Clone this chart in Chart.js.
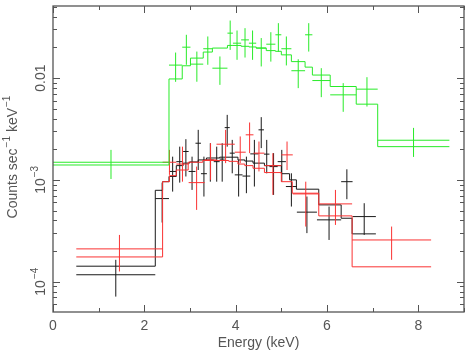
<!DOCTYPE html>
<html><head><meta charset="utf-8">
<script src="https://cdn.jsdelivr.net/npm/chart.js@4/dist/chart.umd.min.js"></script>
<style>html,body{margin:0;padding:0;background:#fff;}canvas{display:block;}</style>
</head><body>
<canvas id="c" width="469" height="353"></canvas>
<script>
// ---- axis labels ----
const xTickValues = [0, 2, 4, 6, 8];
const xTickLabels = ['0', '2', '4', '6', '8'];
const yTickValues = [1e-4, 1e-3, 1e-2];
const yTickBase = ['10', '10', '0.01'];
const yTickExp = ['\u22124', '\u22123', ''];
const xTitle = 'Energy (keV)';
const yTitleParts = ['Counts sec', '\u22121', ' keV', '\u22121'];

// ---- green dataset (bins in keV, counts/s/keV) ----
const greenEdges = [0, 2.54, 2.83, 3.01, 3.29, 3.49, 3.82, 3.94, 4.12, 4.29, 4.45, 4.67, 4.87, 5.00, 5.22, 5.52, 5.68, 6.07, 6.64, 7.11, 8.68];
const greenCounts = [1.49e-3, 0.0134, 0.0201, 0.0137, 0.0194, 0.0125, 0.0276, 0.0220, 0.0237, 0.0220, 0.0197, 0.0215, 0.0266, 0.0194, 0.0118, 0.0266, 9.45e-3, 6.84e-3, 7.78e-3, 2.45e-3];
const greenErrHi = [1.97e-3, 0.0178, 0.0266, 0.0182, 0.0256, 0.0163, 0.0367, 0.0293, 0.0309, 0.0293, 0.0247, 0.0282, 0.0346, 0.0256, 0.0153, 0.0346, 0.0125, 8.91e-3, 0.0102, 3.24e-3];
const greenErrLo = [1.02e-3, 9.18e-3, 0.0135, 9.2e-3, 0.0135, 8.57e-3, 0.0189, 0.0151, 0.0159, 0.0151, 0.0130, 0.0145, 0.0182, 0.0133, 7.96e-3, 0.0182, 6.49e-3, 4.66e-3, 5.25e-3, 1.68e-3];
const greenModel = [1.40e-3, 9.8e-3, 0.0132, 0.0157, 0.0180, 0.0197, 0.0209, 0.0209, 0.0205, 0.0202, 0.0197, 0.0186, 0.0183, 0.0169, 0.0145, 0.0128, 0.0107, 8.26e-3, 5.54e-3, 2.12e-3];

// ---- black dataset ----
const blackEdges = [0.51, 2.24, 2.54, 2.70, 2.85, 2.97, 3.12, 3.24, 3.37, 3.52, 3.65, 3.76, 3.87, 3.98, 4.15, 4.32, 4.50, 4.62, 4.74, 4.92, 5.10, 5.34, 5.78, 6.31, 6.56, 7.07];
const blackCounts = [1.17e-4, 6.55e-4, 1.21e-3, 1.51e-3, 1.9e-3, 1.21e-3, 2.29e-3, 1.15e-3, 1.57e-3, 1.51e-3, 1.6e-3, 3.26e-3, 1.83e-3, 1.12e-3, 1.09e-3, 1.8e-3, 3.1e-3, 1.79e-3, 1.35e-3, 1.51e-3, 8.6e-4, 4.82e-4, 4.05e-4, 9.6e-4, 4.36e-4];
const blackErrHi = [1.64e-4, 9.4e-4, 1.69e-3, 2.12e-3, 2.51e-3, 1.69e-3, 3.1e-3, 1.69e-3, 2.29e-3, 2.12e-3, 2.29e-3, 4.35e-3, 2.47e-3, 1.57e-3, 1.69e-3, 2.47e-3, 4.13e-3, 2.47e-3, 1.83e-3, 1.97e-3, 1.16e-3, 6.86e-4, 5.47e-4, 1.27e-3, 5.9e-4];
const blackErrLo = [7.14e-5, 3.81e-4, 7.67e-4, 9.4e-4, 1.08e-3, 7.97e-4, 1.25e-3, 6.86e-4, 9.6e-4, 9.6e-4, 9.6e-4, 2.12e-3, 1.16e-3, 6.86e-4, 7.4e-4, 8.6e-4, 2.05e-3, 1.16e-3, 7.12e-4, 9.6e-4, 5.47e-4, 3.0e-4, 2.57e-4, 6.46e-4, 2.88e-4];
const blackModelEdges = [0.51, 2.24, 2.40, 2.54, 2.70, 2.85, 2.99, 3.18, 3.36, 3.65, 4.05, 4.20, 4.38, 4.63, 5.00, 5.18, 5.33, 5.82, 6.31, 6.55, 7.07];
const blackModel = [1.42e-4, 7.9e-4, 9.6e-4, 1.08e-3, 1.38e-3, 1.46e-3, 1.50e-3, 1.57e-3, 1.64e-3, 1.67e-3, 1.57e-3, 1.53e-3, 1.46e-3, 1.38e-3, 1.15e-3, 1.0e-3, 8.1e-4, 5.68e-4, 4.2e-4, 2.95e-4];

// ---- red dataset ----
const redEdges = [0.51, 2.40, 2.70, 2.97, 3.32, 3.58, 3.98, 4.22, 4.39, 4.63, 5.00, 5.25, 5.82, 6.55, 8.28];
const redCounts = [2.10e-4, 1.49e-3, 1.43e-3, 9.4e-4, 1.57e-3, 2.24e-3, 1.87e-3, 2.77e-3, 1.83e-3, 1.38e-3, 1.76e-3, 7.28e-4, 5.81e-4, 2.57e-4];
const redErrHi = [2.88e-4, 1.97e-3, 2.12e-3, 1.35e-3, 2.29e-3, 3.10e-3, 2.67e-3, 3.66e-3, 2.38e-3, 1.83e-3, 2.38e-3, 9.6e-4, 7.97e-4, 3.48e-4];
const redErrLo = [1.26e-4, 1.12e-3, 9.6e-4, 5.07e-4, 1.0e-3, 1.46e-3, 1.46e-3, 1.83e-3, 1.21e-3, 7.12e-4, 1.25e-3, 3.48e-4, 3.61e-4, 1.64e-4];
const redModelEdges = [0.51, 2.40, 2.55, 2.70, 2.96, 3.28, 3.85, 4.05, 4.20, 4.38, 4.63, 5.00, 5.24, 5.82, 6.55, 8.28];
const redModel = [1.75e-4, 9.6e-4, 1.1e-3, 1.25e-3, 1.49e-3, 1.55e-3, 1.52e-3, 1.43e-3, 1.38e-3, 1.30e-3, 1.18e-3, 9.6e-4, 7.4e-4, 4.43e-4, 1.40e-4];

const GREEN = 'rgb(40,235,40)', RED = 'rgb(250,50,50)', BLACK = 'rgb(25,25,25)';
const AXIS = '#555';
const FONT = '"Liberation Sans", Arial, sans-serif';

function crossPoints(edges, counts, lo, hi) {
  const pts = [];
  for (let i = 0; i < counts.length; i++) {
    const xc = (edges[i] + edges[i + 1]) / 2;
    pts.push({x: edges[i], y: counts[i]}, {x: edges[i + 1], y: counts[i]}, {x: xc, y: null});
    pts.push({x: xc, y: lo[i]}, {x: xc, y: hi[i]}, {x: xc, y: null});
  }
  return pts;
}
function stepPoints(edges, vals) {
  const pts = vals.map((v, i) => ({x: edges[i], y: v}));
  pts.push({x: edges[vals.length], y: vals[vals.length - 1]});
  return pts;
}
function ds(label, data, color, stepped) {
  return {label, data, borderColor: color, backgroundColor: color, borderWidth: 1,
    showLine: true, pointRadius: 0, pointHoverRadius: 0, spanGaps: false, stepped: stepped ? true : false, tension: 0, fill: false};
}

const axesPlugin = {
  id: 'pgAxes',
  afterDraw(chart) {
    const {ctx, chartArea: a, scales: {x, y}} = chart;
    ctx.save();
    ctx.strokeStyle = AXIS; ctx.lineWidth = 1.3;
    ctx.strokeRect(a.left, a.top, a.right - a.left, a.bottom - a.top);
    ctx.lineWidth = 1;
    ctx.beginPath();
    for (let v = 0; v <= 9; v++) {
      const px = Math.round(x.getPixelForValue(v)) + 0.5;
      const len = v % 2 === 0 ? 7 : 4;
      ctx.moveTo(px, a.bottom); ctx.lineTo(px, a.bottom - len);
      ctx.moveTo(px, a.top); ctx.lineTo(px, a.top + len);
    }
    for (let d = -5; d <= -2; d++) {
      for (let m = 1; m <= 9; m++) {
        const v = m * Math.pow(10, d);
        if (v < y.min || v > y.max) continue;
        const py = Math.round(y.getPixelForValue(v)) + 0.5;
        const len = m === 1 ? 7 : 4;
        ctx.moveTo(a.left, py); ctx.lineTo(a.left + len, py);
        ctx.moveTo(a.right, py); ctx.lineTo(a.right - len, py);
      }
    }
    ctx.stroke();

    ctx.fillStyle = AXIS;
    ctx.font = '14px ' + FONT;
    ctx.textAlign = 'center'; ctx.textBaseline = 'alphabetic';
    xTickValues.forEach((v, i) => ctx.fillText(xTickLabels[i], x.getPixelForValue(v), a.bottom + 18));
    ctx.fillText(xTitle, (a.left + a.right) / 2, 347);

    // rotated y tick labels
    yTickValues.forEach((v, i) => {
      const py = y.getPixelForValue(v);
      ctx.save();
      ctx.translate(45, py);
      ctx.rotate(-Math.PI / 2);
      ctx.textAlign = 'left';
      ctx.font = '14px ' + FONT;
      const wb = ctx.measureText(yTickBase[i]).width;
      ctx.font = '10px ' + FONT;
      const we = yTickExp[i] ? ctx.measureText(yTickExp[i]).width + 1 : 0;
      const x0 = -(wb + we) / 2;
      ctx.font = '14px ' + FONT;
      ctx.fillText(yTickBase[i], x0, 0);
      if (yTickExp[i]) { ctx.font = '10px ' + FONT; ctx.fillText(yTickExp[i], x0 + wb + 1, -7); }
      ctx.restore();
    });

    // rotated y title
    ctx.save();
    ctx.translate(17, 157);
    ctx.rotate(-Math.PI / 2);
    ctx.textAlign = 'left';
    const fonts = ['14px ' + FONT, '10px ' + FONT, '14px ' + FONT, '10px ' + FONT];
    const offs = [0, -7, 0, -7];
    let total = 0; const ws = [];
    yTitleParts.forEach((t, i) => { ctx.font = fonts[i]; const w = ctx.measureText(t).width + (i % 2 ? 1 : 0); ws.push(w); total += w; });
    let cx = -total / 2;
    yTitleParts.forEach((t, i) => { ctx.font = fonts[i]; ctx.fillText(t, cx + (i % 2 ? 1 : 0), offs[i]); cx += ws[i]; });
    ctx.restore();
    ctx.restore();
  }
};

new Chart(document.getElementById('c'), {
  type: 'scatter',
  data: {
    datasets: [
      ds('green model', stepPoints(greenEdges, greenModel), GREEN, true),
      ds('green data', crossPoints(greenEdges, greenCounts, greenErrLo, greenErrHi), GREEN, false),
      ds('red model', stepPoints(redModelEdges, redModel), RED, true),
      ds('red data', crossPoints(redEdges, redCounts, redErrLo, redErrHi), RED, false),
      ds('black model', stepPoints(blackModelEdges, blackModel), BLACK, true),
      ds('black data', crossPoints(blackEdges, blackCounts, blackErrLo, blackErrHi), BLACK, false)
    ]
  },
  options: {
    responsive: false, animation: false, devicePixelRatio: 1,
    layout: {padding: {left: 53, right: 5, top: 6, bottom: 41}},
    plugins: {legend: {display: false}, tooltip: {enabled: false}, title: {display: false}},
    events: [],
    scales: {
      x: {type: 'linear', min: 0, max: 9, display: false},
      y: {type: 'logarithmic', min: 5.04e-5, max: 0.051, display: false}
    }
  },
  plugins: [axesPlugin]
});
</script>
</body></html>
